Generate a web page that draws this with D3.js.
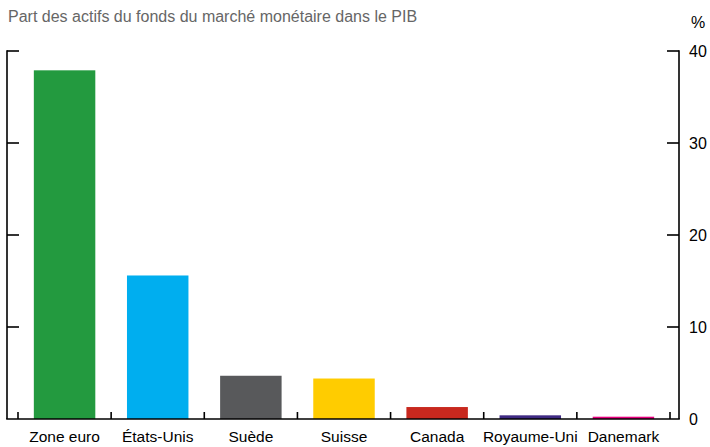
<!DOCTYPE html>
<html>
<head>
<meta charset="utf-8">
<script src="https://cdn.jsdelivr.net/npm/d3@7"></script>
<style>
  body { margin: 0; background: #fff; }
  text { font-family: "Liberation Sans", Arial, sans-serif; }
</style>
</head>
<body>
<script>
const categories = ["Zone euro", "États-Unis", "Suède", "Suisse", "Canada", "Royaume-Uni", "Danemark"];
const values = [37.9, 15.6, 4.7, 4.4, 1.3, 0.4, 0.25];
const colors = ["#239a3f", "#00aeef", "#58595b", "#ffcc00", "#c8281e", "#3f2a83", "#e6007e"];
const yTicks = [0, 10, 20, 30, 40];

const width = 710, height = 447;
const axisLeft = 7, axisRight = 679;

const svg = d3.select("body").append("svg")
    .attr("width", width)
    .attr("height", height);

const x = d3.scaleBand()
    .domain(categories)
    .range([18, 670])
    .paddingInner(0.34)
    .paddingOuter(0.17);

const y = d3.scaleLinear()
    .domain([0, 40])
    .range([419, 51]);

// bars
svg.selectAll("rect.bar")
  .data(categories)
  .enter().append("rect")
  .attr("class", "bar")
  .attr("x", d => x(d))
  .attr("width", x.bandwidth())
  .attr("y", (d, i) => y(values[i]))
  .attr("height", (d, i) => y(0) - y(values[i]))
  .style("fill", (d, i) => colors[i]);

// left and right axes (ticks inward)
const line = (x1, y1, x2, y2) => svg.append("line")
    .attr("x1", x1).attr("y1", y1).attr("x2", x2).attr("y2", y2)
    .attr("stroke", "#000").attr("stroke-width", 1.6);

line(axisLeft, y(40) - 0.8, axisLeft, y(0));
line(axisRight, y(40) - 0.8, axisRight, y(0));
line(axisLeft - 0.8, y(0), axisRight + 0.8, y(0));

yTicks.filter(t => t > 0).forEach(t => {
  line(axisLeft, y(t), axisLeft + 12, y(t));
  line(axisRight, y(t), axisRight - 12, y(t));
});

// category separator ticks
const step = x.step();
const bounds = categories.map(c => x(c) - x.paddingInner() * step / 2);
bounds.push(x(categories[categories.length - 1]) + x.bandwidth() + x.paddingInner() * step / 2);
bounds.forEach(b => line(b, y(0), b, y(0) - 7));

// y labels on right
svg.selectAll("text.ytick")
  .data(yTicks)
  .enter().append("text")
  .attr("class", "ytick")
  .attr("x", 689)
  .attr("y", d => y(d) + 6)
  .style("font-size", "16px")
  .style("fill", "#000")
  .text(d => d);

svg.append("text")
  .attr("x", 691)
  .attr("y", 28)
  .style("font-size", "16px")
  .text("%");

// category labels
svg.selectAll("text.cat")
  .data(categories)
  .enter().append("text")
  .attr("class", "cat")
  .attr("x", d => x(d) + x.bandwidth() / 2)
  .attr("y", 442)
  .attr("text-anchor", "middle")
  .style("font-size", "15.5px")
  .text(d => d);

// title
svg.append("text")
  .attr("x", 8)
  .attr("y", 22)
  .style("font-size", "16px")
  .style("fill", "#666")
  .text("Part des actifs du fonds du marché monétaire dans le PIB");
</script>
</body>
</html>
